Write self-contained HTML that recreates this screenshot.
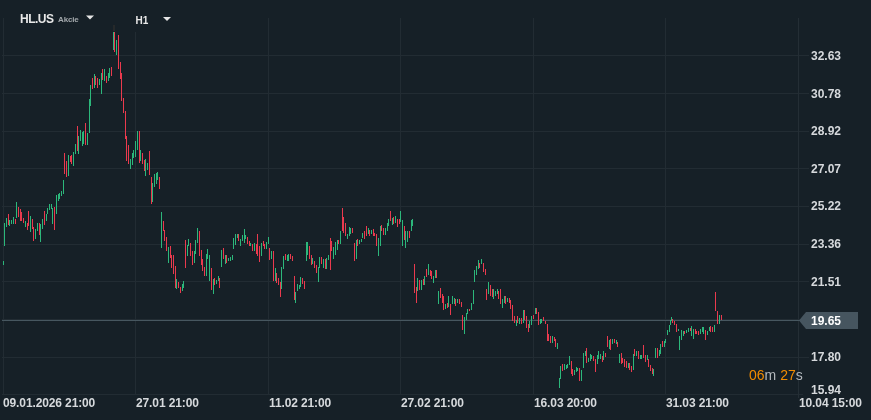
<!DOCTYPE html>
<html><head><meta charset="utf-8">
<style>
html,body{margin:0;padding:0;}
body{width:871px;height:420px;background:#162027;position:relative;overflow:hidden;font-family:"Liberation Sans",Arial,sans-serif;}
svg{position:absolute;left:0;top:0;}
.t{position:absolute;white-space:nowrap;line-height:1;}
.ax{font-size:12px;font-weight:bold;color:#d6d9dc;}
.xl{letter-spacing:-0.12px}
</style></head><body>
<svg width="871" height="420" viewBox="0 0 871 420" shape-rendering="crispEdges">
<rect x="2" y="55" width="807" height="1" fill="#222c33"/>
<rect x="2" y="93" width="807" height="1" fill="#222c33"/>
<rect x="2" y="131" width="807" height="1" fill="#222c33"/>
<rect x="2" y="168" width="807" height="1" fill="#222c33"/>
<rect x="2" y="206" width="807" height="1" fill="#222c33"/>
<rect x="2" y="244" width="807" height="1" fill="#222c33"/>
<rect x="2" y="281" width="807" height="1" fill="#222c33"/>
<rect x="2" y="319" width="807" height="1" fill="#222c33"/>
<rect x="2" y="357" width="807" height="1" fill="#222c33"/>
<rect x="2" y="394" width="801" height="1" fill="#222c33"/>
<rect x="3" y="18" width="1" height="377" fill="#222c33"/>
<rect x="135" y="18" width="1" height="377" fill="#222c33"/>
<rect x="268" y="18" width="1" height="377" fill="#222c33"/>
<rect x="400" y="18" width="1" height="377" fill="#222c33"/>
<rect x="533" y="18" width="1" height="377" fill="#222c33"/>
<rect x="665" y="18" width="1" height="377" fill="#222c33"/>
<rect x="798" y="18" width="1" height="380" fill="#242e35"/>
<rect x="128" y="18" width="56" height="14" fill="#162027"/>
<rect x="113" y="25" width="2" height="6" fill="#26292a"/>
<rect x="2" y="320" width="798" height="1" fill="#475760"/>
<rect x="3" y="261" width="1" height="4" fill="#2cb77b"/>
<rect x="4" y="223" width="1" height="23" fill="#2cb77b"/>
<rect x="6" y="218" width="1" height="9" fill="#2cb77b"/>
<rect x="8" y="214" width="1" height="11" fill="#ea3a4e"/>
<rect x="9" y="220" width="1" height="6" fill="#2cb77b"/>
<rect x="11" y="220" width="1" height="4" fill="#2cb77b"/>
<rect x="13" y="217" width="1" height="7" fill="#2cb77b"/>
<rect x="15" y="219" width="1" height="5" fill="#ea3a4e"/>
<rect x="16" y="202" width="1" height="16" fill="#2cb77b"/>
<rect x="18" y="207" width="1" height="10" fill="#ea3a4e"/>
<rect x="20" y="209" width="1" height="12" fill="#ea3a4e"/>
<rect x="21" y="212" width="1" height="9" fill="#ea3a4e"/>
<rect x="23" y="218" width="1" height="5" fill="#ea3a4e"/>
<rect x="25" y="221" width="1" height="6" fill="#2cb77b"/>
<rect x="27" y="223" width="1" height="7" fill="#ea3a4e"/>
<rect x="28" y="211" width="1" height="15" fill="#ea3a4e"/>
<rect x="30" y="216" width="1" height="16" fill="#2cb77b"/>
<rect x="32" y="219" width="1" height="10" fill="#ea3a4e"/>
<rect x="33" y="227" width="1" height="14" fill="#ea3a4e"/>
<rect x="35" y="229" width="1" height="10" fill="#2cb77b"/>
<rect x="37" y="223" width="1" height="8" fill="#2cb77b"/>
<rect x="39" y="223" width="1" height="12" fill="#ea3a4e"/>
<rect x="40" y="224" width="1" height="18" fill="#2cb77b"/>
<rect x="42" y="219" width="1" height="10" fill="#2cb77b"/>
<rect x="44" y="211" width="1" height="14" fill="#ea3a4e"/>
<rect x="46" y="214" width="1" height="7" fill="#2cb77b"/>
<rect x="47" y="208" width="1" height="6" fill="#2cb77b"/>
<rect x="49" y="204" width="1" height="6" fill="#2cb77b"/>
<rect x="51" y="204" width="1" height="5" fill="#2cb77b"/>
<rect x="52" y="208" width="1" height="16" fill="#2cb77b"/>
<rect x="54" y="207" width="1" height="23" fill="#ea3a4e"/>
<rect x="56" y="195" width="1" height="19" fill="#2cb77b"/>
<rect x="58" y="194" width="1" height="7" fill="#2cb77b"/>
<rect x="59" y="193" width="1" height="6" fill="#2cb77b"/>
<rect x="61" y="191" width="1" height="5" fill="#2cb77b"/>
<rect x="63" y="180" width="1" height="14" fill="#2cb77b"/>
<rect x="64" y="153" width="1" height="21" fill="#ea3a4e"/>
<rect x="66" y="161" width="1" height="16" fill="#ea3a4e"/>
<rect x="68" y="155" width="1" height="21" fill="#2cb77b"/>
<rect x="70" y="156" width="1" height="6" fill="#ea3a4e"/>
<rect x="71" y="155" width="1" height="9" fill="#ea3a4e"/>
<rect x="73" y="152" width="1" height="14" fill="#2cb77b"/>
<rect x="75" y="144" width="1" height="10" fill="#2cb77b"/>
<rect x="77" y="126" width="1" height="25" fill="#ea3a4e"/>
<rect x="78" y="136" width="1" height="18" fill="#2cb77b"/>
<rect x="80" y="130" width="1" height="11" fill="#2cb77b"/>
<rect x="82" y="132" width="1" height="14" fill="#2cb77b"/>
<rect x="83" y="131" width="1" height="13" fill="#2cb77b"/>
<rect x="85" y="123" width="1" height="22" fill="#ea3a4e"/>
<rect x="87" y="133" width="1" height="12" fill="#2cb77b"/>
<rect x="89" y="99" width="1" height="34" fill="#2cb77b"/>
<rect x="90" y="85" width="1" height="21" fill="#2cb77b"/>
<rect x="92" y="78" width="1" height="11" fill="#ea3a4e"/>
<rect x="94" y="74" width="1" height="14" fill="#2cb77b"/>
<rect x="95" y="76" width="1" height="9" fill="#ea3a4e"/>
<rect x="97" y="78" width="1" height="10" fill="#ea3a4e"/>
<rect x="99" y="79" width="1" height="6" fill="#2cb77b"/>
<rect x="101" y="73" width="1" height="21" fill="#2cb77b"/>
<rect x="102" y="69" width="1" height="11" fill="#ea3a4e"/>
<rect x="104" y="69" width="1" height="12" fill="#2cb77b"/>
<rect x="106" y="76" width="1" height="7" fill="#ea3a4e"/>
<rect x="108" y="73" width="1" height="8" fill="#2cb77b"/>
<rect x="109" y="68" width="1" height="10" fill="#2cb77b"/>
<rect x="111" y="67" width="1" height="9" fill="#ea3a4e"/>
<rect x="113" y="32" width="1" height="18" fill="#2cb77b"/>
<rect x="114" y="32" width="1" height="20" fill="#ea3a4e"/>
<rect x="116" y="40" width="1" height="15" fill="#2cb77b"/>
<rect x="118" y="35" width="1" height="34" fill="#ea3a4e"/>
<rect x="120" y="62" width="1" height="17" fill="#ea3a4e"/>
<rect x="121" y="73" width="1" height="28" fill="#ea3a4e"/>
<rect x="123" y="98" width="1" height="15" fill="#ea3a4e"/>
<rect x="125" y="111" width="1" height="28" fill="#ea3a4e"/>
<rect x="126" y="136" width="1" height="25" fill="#ea3a4e"/>
<rect x="128" y="145" width="1" height="19" fill="#ea3a4e"/>
<rect x="130" y="159" width="1" height="10" fill="#2cb77b"/>
<rect x="132" y="153" width="1" height="12" fill="#2cb77b"/>
<rect x="133" y="150" width="1" height="8" fill="#2cb77b"/>
<rect x="135" y="141" width="1" height="16" fill="#2cb77b"/>
<rect x="137" y="131" width="1" height="19" fill="#2cb77b"/>
<rect x="139" y="131" width="1" height="32" fill="#ea3a4e"/>
<rect x="140" y="150" width="1" height="11" fill="#2cb77b"/>
<rect x="142" y="153" width="1" height="11" fill="#ea3a4e"/>
<rect x="144" y="160" width="1" height="11" fill="#ea3a4e"/>
<rect x="145" y="159" width="1" height="17" fill="#2cb77b"/>
<rect x="147" y="163" width="1" height="7" fill="#2cb77b"/>
<rect x="149" y="151" width="1" height="24" fill="#ea3a4e"/>
<rect x="151" y="177" width="1" height="27" fill="#ea3a4e"/>
<rect x="152" y="183" width="1" height="19" fill="#2cb77b"/>
<rect x="154" y="174" width="1" height="13" fill="#2cb77b"/>
<rect x="156" y="173" width="1" height="11" fill="#2cb77b"/>
<rect x="157" y="172" width="1" height="8" fill="#2cb77b"/>
<rect x="159" y="177" width="1" height="12" fill="#ea3a4e"/>
<rect x="161" y="212" width="1" height="36" fill="#2cb77b"/>
<rect x="163" y="221" width="1" height="10" fill="#ea3a4e"/>
<rect x="164" y="230" width="1" height="11" fill="#ea3a4e"/>
<rect x="166" y="237" width="1" height="14" fill="#ea3a4e"/>
<rect x="168" y="247" width="1" height="16" fill="#2cb77b"/>
<rect x="170" y="246" width="1" height="12" fill="#ea3a4e"/>
<rect x="171" y="255" width="1" height="13" fill="#ea3a4e"/>
<rect x="173" y="255" width="1" height="19" fill="#ea3a4e"/>
<rect x="175" y="266" width="1" height="22" fill="#ea3a4e"/>
<rect x="176" y="279" width="1" height="10" fill="#2cb77b"/>
<rect x="178" y="282" width="1" height="6" fill="#ea3a4e"/>
<rect x="180" y="287" width="1" height="6" fill="#ea3a4e"/>
<rect x="182" y="284" width="1" height="7" fill="#2cb77b"/>
<rect x="183" y="281" width="1" height="7" fill="#2cb77b"/>
<rect x="185" y="240" width="1" height="28" fill="#ea3a4e"/>
<rect x="187" y="245" width="1" height="11" fill="#2cb77b"/>
<rect x="188" y="239" width="1" height="7" fill="#2cb77b"/>
<rect x="190" y="243" width="1" height="13" fill="#ea3a4e"/>
<rect x="192" y="251" width="1" height="14" fill="#ea3a4e"/>
<rect x="194" y="251" width="1" height="12" fill="#2cb77b"/>
<rect x="195" y="240" width="1" height="14" fill="#2cb77b"/>
<rect x="197" y="228" width="1" height="15" fill="#2cb77b"/>
<rect x="199" y="231" width="1" height="25" fill="#ea3a4e"/>
<rect x="201" y="250" width="1" height="15" fill="#ea3a4e"/>
<rect x="202" y="259" width="1" height="12" fill="#ea3a4e"/>
<rect x="204" y="267" width="1" height="9" fill="#ea3a4e"/>
<rect x="206" y="254" width="1" height="22" fill="#2cb77b"/>
<rect x="207" y="249" width="1" height="10" fill="#2cb77b"/>
<rect x="209" y="255" width="1" height="26" fill="#2cb77b"/>
<rect x="211" y="268" width="1" height="22" fill="#ea3a4e"/>
<rect x="213" y="279" width="1" height="15" fill="#2cb77b"/>
<rect x="214" y="278" width="1" height="7" fill="#ea3a4e"/>
<rect x="216" y="280" width="1" height="4" fill="#2cb77b"/>
<rect x="218" y="276" width="1" height="5" fill="#2cb77b"/>
<rect x="219" y="278" width="1" height="10" fill="#ea3a4e"/>
<rect x="221" y="250" width="1" height="17" fill="#2cb77b"/>
<rect x="223" y="248" width="1" height="11" fill="#ea3a4e"/>
<rect x="225" y="255" width="1" height="9" fill="#2cb77b"/>
<rect x="226" y="255" width="1" height="8" fill="#ea3a4e"/>
<rect x="228" y="258" width="1" height="3" fill="#2cb77b"/>
<rect x="230" y="257" width="1" height="4" fill="#2cb77b"/>
<rect x="232" y="255" width="1" height="5" fill="#2cb77b"/>
<rect x="233" y="238" width="1" height="11" fill="#2cb77b"/>
<rect x="235" y="234" width="1" height="11" fill="#2cb77b"/>
<rect x="237" y="234" width="1" height="4" fill="#2cb77b"/>
<rect x="238" y="234" width="1" height="7" fill="#ea3a4e"/>
<rect x="240" y="239" width="1" height="7" fill="#2cb77b"/>
<rect x="242" y="235" width="1" height="6" fill="#2cb77b"/>
<rect x="244" y="229" width="1" height="14" fill="#2cb77b"/>
<rect x="245" y="235" width="1" height="4" fill="#2cb77b"/>
<rect x="247" y="237" width="1" height="7" fill="#ea3a4e"/>
<rect x="249" y="241" width="1" height="5" fill="#ea3a4e"/>
<rect x="250" y="243" width="1" height="3" fill="#2cb77b"/>
<rect x="252" y="244" width="1" height="7" fill="#ea3a4e"/>
<rect x="254" y="243" width="1" height="8" fill="#2cb77b"/>
<rect x="256" y="244" width="1" height="10" fill="#ea3a4e"/>
<rect x="257" y="234" width="1" height="22" fill="#ea3a4e"/>
<rect x="259" y="246" width="1" height="16" fill="#ea3a4e"/>
<rect x="261" y="243" width="1" height="13" fill="#2cb77b"/>
<rect x="263" y="241" width="1" height="5" fill="#ea3a4e"/>
<rect x="264" y="244" width="1" height="5" fill="#ea3a4e"/>
<rect x="266" y="242" width="1" height="7" fill="#2cb77b"/>
<rect x="268" y="237" width="1" height="7" fill="#2cb77b"/>
<rect x="269" y="248" width="1" height="12" fill="#ea3a4e"/>
<rect x="271" y="251" width="1" height="8" fill="#2cb77b"/>
<rect x="273" y="251" width="1" height="30" fill="#ea3a4e"/>
<rect x="275" y="268" width="1" height="13" fill="#2cb77b"/>
<rect x="276" y="273" width="1" height="10" fill="#ea3a4e"/>
<rect x="278" y="278" width="1" height="7" fill="#ea3a4e"/>
<rect x="280" y="282" width="1" height="15" fill="#ea3a4e"/>
<rect x="281" y="267" width="1" height="22" fill="#2cb77b"/>
<rect x="283" y="256" width="1" height="13" fill="#2cb77b"/>
<rect x="285" y="254" width="1" height="6" fill="#ea3a4e"/>
<rect x="287" y="255" width="1" height="6" fill="#2cb77b"/>
<rect x="288" y="254" width="1" height="7" fill="#2cb77b"/>
<rect x="290" y="254" width="1" height="5" fill="#ea3a4e"/>
<rect x="292" y="256" width="1" height="5" fill="#ea3a4e"/>
<rect x="294" y="276" width="1" height="24" fill="#ea3a4e"/>
<rect x="295" y="292" width="1" height="11" fill="#2cb77b"/>
<rect x="297" y="284" width="1" height="7" fill="#2cb77b"/>
<rect x="299" y="285" width="1" height="4" fill="#2cb77b"/>
<rect x="300" y="277" width="1" height="10" fill="#2cb77b"/>
<rect x="302" y="278" width="1" height="6" fill="#ea3a4e"/>
<rect x="304" y="281" width="1" height="8" fill="#ea3a4e"/>
<rect x="306" y="242" width="1" height="19" fill="#2cb77b"/>
<rect x="307" y="242" width="1" height="13" fill="#2cb77b"/>
<rect x="309" y="246" width="1" height="13" fill="#ea3a4e"/>
<rect x="311" y="255" width="1" height="10" fill="#ea3a4e"/>
<rect x="312" y="258" width="1" height="6" fill="#2cb77b"/>
<rect x="314" y="261" width="1" height="7" fill="#ea3a4e"/>
<rect x="316" y="265" width="1" height="8" fill="#ea3a4e"/>
<rect x="318" y="267" width="1" height="15" fill="#2cb77b"/>
<rect x="319" y="257" width="1" height="11" fill="#2cb77b"/>
<rect x="321" y="257" width="1" height="7" fill="#ea3a4e"/>
<rect x="323" y="259" width="1" height="9" fill="#2cb77b"/>
<rect x="325" y="259" width="1" height="10" fill="#ea3a4e"/>
<rect x="326" y="258" width="1" height="11" fill="#2cb77b"/>
<rect x="328" y="255" width="1" height="5" fill="#2cb77b"/>
<rect x="330" y="238" width="1" height="32" fill="#ea3a4e"/>
<rect x="331" y="241" width="1" height="10" fill="#ea3a4e"/>
<rect x="333" y="247" width="1" height="12" fill="#2cb77b"/>
<rect x="335" y="242" width="1" height="13" fill="#2cb77b"/>
<rect x="337" y="240" width="1" height="10" fill="#2cb77b"/>
<rect x="338" y="240" width="1" height="4" fill="#ea3a4e"/>
<rect x="340" y="231" width="1" height="13" fill="#2cb77b"/>
<rect x="342" y="208" width="1" height="23" fill="#ea3a4e"/>
<rect x="343" y="217" width="1" height="16" fill="#ea3a4e"/>
<rect x="345" y="223" width="1" height="13" fill="#ea3a4e"/>
<rect x="347" y="234" width="1" height="5" fill="#2cb77b"/>
<rect x="349" y="227" width="1" height="9" fill="#2cb77b"/>
<rect x="350" y="228" width="1" height="6" fill="#2cb77b"/>
<rect x="352" y="228" width="1" height="5" fill="#ea3a4e"/>
<rect x="354" y="243" width="1" height="18" fill="#ea3a4e"/>
<rect x="356" y="240" width="1" height="19" fill="#2cb77b"/>
<rect x="357" y="239" width="1" height="7" fill="#ea3a4e"/>
<rect x="359" y="240" width="1" height="4" fill="#2cb77b"/>
<rect x="361" y="239" width="1" height="3" fill="#2cb77b"/>
<rect x="362" y="233" width="1" height="5" fill="#2cb77b"/>
<rect x="364" y="231" width="1" height="8" fill="#ea3a4e"/>
<rect x="366" y="226" width="1" height="10" fill="#ea3a4e"/>
<rect x="368" y="228" width="1" height="6" fill="#2cb77b"/>
<rect x="369" y="230" width="1" height="6" fill="#ea3a4e"/>
<rect x="371" y="230" width="1" height="4" fill="#2cb77b"/>
<rect x="373" y="229" width="1" height="7" fill="#ea3a4e"/>
<rect x="374" y="233" width="1" height="3" fill="#ea3a4e"/>
<rect x="376" y="234" width="1" height="12" fill="#ea3a4e"/>
<rect x="378" y="238" width="1" height="18" fill="#2cb77b"/>
<rect x="380" y="226" width="1" height="20" fill="#2cb77b"/>
<rect x="381" y="225" width="1" height="6" fill="#ea3a4e"/>
<rect x="383" y="228" width="1" height="7" fill="#ea3a4e"/>
<rect x="385" y="228" width="1" height="7" fill="#2cb77b"/>
<rect x="387" y="223" width="1" height="8" fill="#2cb77b"/>
<rect x="388" y="219" width="1" height="7" fill="#2cb77b"/>
<rect x="390" y="211" width="1" height="10" fill="#ea3a4e"/>
<rect x="392" y="218" width="1" height="7" fill="#2cb77b"/>
<rect x="393" y="217" width="1" height="7" fill="#ea3a4e"/>
<rect x="395" y="216" width="1" height="7" fill="#2cb77b"/>
<rect x="397" y="219" width="1" height="8" fill="#ea3a4e"/>
<rect x="399" y="219" width="1" height="5" fill="#ea3a4e"/>
<rect x="400" y="211" width="1" height="11" fill="#2cb77b"/>
<rect x="402" y="220" width="1" height="26" fill="#2cb77b"/>
<rect x="404" y="226" width="1" height="14" fill="#ea3a4e"/>
<rect x="405" y="231" width="1" height="17" fill="#2cb77b"/>
<rect x="407" y="231" width="1" height="11" fill="#2cb77b"/>
<rect x="409" y="231" width="1" height="7" fill="#ea3a4e"/>
<rect x="411" y="220" width="1" height="11" fill="#2cb77b"/>
<rect x="412" y="219" width="1" height="7" fill="#2cb77b"/>
<rect x="414" y="264" width="1" height="29" fill="#ea3a4e"/>
<rect x="416" y="287" width="1" height="16" fill="#ea3a4e"/>
<rect x="417" y="278" width="1" height="13" fill="#2cb77b"/>
<rect x="419" y="280" width="1" height="10" fill="#ea3a4e"/>
<rect x="421" y="280" width="1" height="10" fill="#2cb77b"/>
<rect x="423" y="279" width="1" height="6" fill="#ea3a4e"/>
<rect x="424" y="276" width="1" height="9" fill="#2cb77b"/>
<rect x="426" y="269" width="1" height="8" fill="#ea3a4e"/>
<rect x="428" y="264" width="1" height="11" fill="#2cb77b"/>
<rect x="430" y="270" width="1" height="6" fill="#ea3a4e"/>
<rect x="431" y="271" width="1" height="8" fill="#ea3a4e"/>
<rect x="433" y="276" width="1" height="7" fill="#2cb77b"/>
<rect x="435" y="270" width="1" height="8" fill="#2cb77b"/>
<rect x="436" y="270" width="1" height="8" fill="#ea3a4e"/>
<rect x="438" y="291" width="1" height="13" fill="#2cb77b"/>
<rect x="440" y="288" width="1" height="10" fill="#ea3a4e"/>
<rect x="442" y="294" width="1" height="9" fill="#ea3a4e"/>
<rect x="443" y="296" width="1" height="14" fill="#ea3a4e"/>
<rect x="445" y="304" width="1" height="5" fill="#2cb77b"/>
<rect x="447" y="303" width="1" height="5" fill="#ea3a4e"/>
<rect x="448" y="296" width="1" height="11" fill="#2cb77b"/>
<rect x="450" y="304" width="1" height="11" fill="#ea3a4e"/>
<rect x="452" y="296" width="1" height="8" fill="#2cb77b"/>
<rect x="454" y="298" width="1" height="6" fill="#2cb77b"/>
<rect x="455" y="299" width="1" height="7" fill="#ea3a4e"/>
<rect x="457" y="299" width="1" height="4" fill="#2cb77b"/>
<rect x="459" y="299" width="1" height="5" fill="#ea3a4e"/>
<rect x="461" y="302" width="1" height="5" fill="#ea3a4e"/>
<rect x="462" y="315" width="1" height="15" fill="#ea3a4e"/>
<rect x="464" y="317" width="1" height="17" fill="#2cb77b"/>
<rect x="466" y="313" width="1" height="7" fill="#2cb77b"/>
<rect x="467" y="309" width="1" height="5" fill="#2cb77b"/>
<rect x="469" y="309" width="1" height="2" fill="#ea3a4e"/>
<rect x="471" y="303" width="1" height="7" fill="#2cb77b"/>
<rect x="473" y="290" width="1" height="14" fill="#2cb77b"/>
<rect x="474" y="270" width="1" height="12" fill="#2cb77b"/>
<rect x="476" y="266" width="1" height="9" fill="#2cb77b"/>
<rect x="478" y="260" width="1" height="9" fill="#2cb77b"/>
<rect x="479" y="263" width="1" height="5" fill="#ea3a4e"/>
<rect x="481" y="259" width="1" height="5" fill="#2cb77b"/>
<rect x="483" y="263" width="1" height="9" fill="#ea3a4e"/>
<rect x="485" y="269" width="1" height="6" fill="#ea3a4e"/>
<rect x="486" y="289" width="1" height="11" fill="#ea3a4e"/>
<rect x="488" y="282" width="1" height="12" fill="#2cb77b"/>
<rect x="490" y="285" width="1" height="11" fill="#ea3a4e"/>
<rect x="492" y="289" width="1" height="8" fill="#ea3a4e"/>
<rect x="493" y="289" width="1" height="10" fill="#2cb77b"/>
<rect x="495" y="291" width="1" height="5" fill="#2cb77b"/>
<rect x="497" y="289" width="1" height="5" fill="#2cb77b"/>
<rect x="498" y="291" width="1" height="8" fill="#ea3a4e"/>
<rect x="500" y="289" width="1" height="15" fill="#ea3a4e"/>
<rect x="502" y="299" width="1" height="9" fill="#2cb77b"/>
<rect x="504" y="296" width="1" height="7" fill="#2cb77b"/>
<rect x="505" y="296" width="1" height="8" fill="#ea3a4e"/>
<rect x="507" y="298" width="1" height="4" fill="#2cb77b"/>
<rect x="509" y="298" width="1" height="5" fill="#ea3a4e"/>
<rect x="510" y="300" width="1" height="9" fill="#ea3a4e"/>
<rect x="512" y="305" width="1" height="16" fill="#ea3a4e"/>
<rect x="514" y="316" width="1" height="7" fill="#ea3a4e"/>
<rect x="516" y="320" width="1" height="6" fill="#2cb77b"/>
<rect x="517" y="316" width="1" height="7" fill="#ea3a4e"/>
<rect x="519" y="318" width="1" height="6" fill="#2cb77b"/>
<rect x="521" y="318" width="1" height="6" fill="#ea3a4e"/>
<rect x="523" y="310" width="1" height="13" fill="#2cb77b"/>
<rect x="524" y="310" width="1" height="10" fill="#ea3a4e"/>
<rect x="526" y="316" width="1" height="12" fill="#ea3a4e"/>
<rect x="528" y="324" width="1" height="8" fill="#ea3a4e"/>
<rect x="529" y="321" width="1" height="7" fill="#2cb77b"/>
<rect x="531" y="316" width="1" height="9" fill="#2cb77b"/>
<rect x="533" y="315" width="1" height="4" fill="#ea3a4e"/>
<rect x="535" y="308" width="1" height="6" fill="#2cb77b"/>
<rect x="536" y="308" width="1" height="6" fill="#ea3a4e"/>
<rect x="538" y="312" width="1" height="13" fill="#ea3a4e"/>
<rect x="540" y="319" width="1" height="5" fill="#2cb77b"/>
<rect x="541" y="319" width="1" height="4" fill="#2cb77b"/>
<rect x="543" y="317" width="1" height="4" fill="#ea3a4e"/>
<rect x="545" y="321" width="1" height="3" fill="#ea3a4e"/>
<rect x="547" y="324" width="1" height="17" fill="#ea3a4e"/>
<rect x="548" y="334" width="1" height="7" fill="#ea3a4e"/>
<rect x="550" y="336" width="1" height="7" fill="#ea3a4e"/>
<rect x="552" y="336" width="1" height="7" fill="#2cb77b"/>
<rect x="554" y="337" width="1" height="4" fill="#ea3a4e"/>
<rect x="555" y="339" width="1" height="8" fill="#ea3a4e"/>
<rect x="557" y="343" width="1" height="6" fill="#2cb77b"/>
<rect x="559" y="378" width="1" height="10" fill="#2cb77b"/>
<rect x="560" y="366" width="1" height="13" fill="#2cb77b"/>
<rect x="562" y="364" width="1" height="7" fill="#ea3a4e"/>
<rect x="564" y="364" width="1" height="6" fill="#2cb77b"/>
<rect x="566" y="365" width="1" height="4" fill="#2cb77b"/>
<rect x="567" y="364" width="1" height="4" fill="#2cb77b"/>
<rect x="569" y="356" width="1" height="9" fill="#2cb77b"/>
<rect x="571" y="361" width="1" height="13" fill="#ea3a4e"/>
<rect x="572" y="369" width="1" height="7" fill="#ea3a4e"/>
<rect x="574" y="370" width="1" height="5" fill="#2cb77b"/>
<rect x="576" y="367" width="1" height="5" fill="#2cb77b"/>
<rect x="577" y="368" width="1" height="3" fill="#2cb77b"/>
<rect x="579" y="368" width="1" height="13" fill="#ea3a4e"/>
<rect x="581" y="370" width="1" height="11" fill="#2cb77b"/>
<rect x="583" y="353" width="1" height="15" fill="#2cb77b"/>
<rect x="585" y="351" width="1" height="5" fill="#2cb77b"/>
<rect x="586" y="348" width="1" height="15" fill="#ea3a4e"/>
<rect x="588" y="358" width="1" height="4" fill="#2cb77b"/>
<rect x="590" y="354" width="1" height="7" fill="#2cb77b"/>
<rect x="591" y="355" width="1" height="4" fill="#2cb77b"/>
<rect x="593" y="356" width="1" height="5" fill="#ea3a4e"/>
<rect x="595" y="359" width="1" height="13" fill="#ea3a4e"/>
<rect x="597" y="355" width="1" height="9" fill="#2cb77b"/>
<rect x="598" y="351" width="1" height="8" fill="#2cb77b"/>
<rect x="600" y="354" width="1" height="5" fill="#2cb77b"/>
<rect x="602" y="356" width="1" height="6" fill="#ea3a4e"/>
<rect x="603" y="351" width="1" height="9" fill="#2cb77b"/>
<rect x="605" y="353" width="1" height="4" fill="#ea3a4e"/>
<rect x="607" y="336" width="1" height="11" fill="#ea3a4e"/>
<rect x="609" y="340" width="1" height="9" fill="#2cb77b"/>
<rect x="610" y="339" width="1" height="11" fill="#ea3a4e"/>
<rect x="612" y="339" width="1" height="5" fill="#2cb77b"/>
<rect x="614" y="339" width="1" height="4" fill="#ea3a4e"/>
<rect x="616" y="340" width="1" height="4" fill="#2cb77b"/>
<rect x="617" y="342" width="1" height="5" fill="#ea3a4e"/>
<rect x="619" y="354" width="1" height="9" fill="#2cb77b"/>
<rect x="621" y="353" width="1" height="11" fill="#ea3a4e"/>
<rect x="622" y="358" width="1" height="5" fill="#ea3a4e"/>
<rect x="624" y="359" width="1" height="8" fill="#ea3a4e"/>
<rect x="626" y="361" width="1" height="7" fill="#ea3a4e"/>
<rect x="628" y="363" width="1" height="5" fill="#2cb77b"/>
<rect x="629" y="363" width="1" height="7" fill="#ea3a4e"/>
<rect x="631" y="366" width="1" height="6" fill="#ea3a4e"/>
<rect x="633" y="354" width="1" height="16" fill="#2cb77b"/>
<rect x="634" y="349" width="1" height="7" fill="#ea3a4e"/>
<rect x="636" y="351" width="1" height="5" fill="#2cb77b"/>
<rect x="638" y="351" width="1" height="8" fill="#ea3a4e"/>
<rect x="640" y="355" width="1" height="4" fill="#2cb77b"/>
<rect x="641" y="355" width="1" height="4" fill="#2cb77b"/>
<rect x="643" y="345" width="1" height="13" fill="#ea3a4e"/>
<rect x="645" y="355" width="1" height="7" fill="#ea3a4e"/>
<rect x="647" y="355" width="1" height="5" fill="#2cb77b"/>
<rect x="648" y="359" width="1" height="8" fill="#ea3a4e"/>
<rect x="650" y="365" width="1" height="6" fill="#ea3a4e"/>
<rect x="652" y="368" width="1" height="6" fill="#ea3a4e"/>
<rect x="653" y="369" width="1" height="7" fill="#2cb77b"/>
<rect x="655" y="348" width="1" height="10" fill="#2cb77b"/>
<rect x="657" y="348" width="1" height="10" fill="#ea3a4e"/>
<rect x="659" y="350" width="1" height="6" fill="#2cb77b"/>
<rect x="660" y="344" width="1" height="10" fill="#2cb77b"/>
<rect x="662" y="341" width="1" height="6" fill="#ea3a4e"/>
<rect x="664" y="341" width="1" height="6" fill="#2cb77b"/>
<rect x="665" y="339" width="1" height="4" fill="#2cb77b"/>
<rect x="667" y="330" width="1" height="5" fill="#2cb77b"/>
<rect x="669" y="325" width="1" height="7" fill="#2cb77b"/>
<rect x="670" y="320" width="1" height="5" fill="#2cb77b"/>
<rect x="671" y="317" width="1" height="4" fill="#2cb77b"/>
<rect x="672" y="319" width="1" height="4" fill="#ea3a4e"/>
<rect x="674" y="321" width="1" height="4" fill="#ea3a4e"/>
<rect x="676" y="324" width="1" height="8" fill="#ea3a4e"/>
<rect x="678" y="329" width="1" height="2" fill="#2cb77b"/>
<rect x="679" y="336" width="1" height="14" fill="#2cb77b"/>
<rect x="681" y="330" width="1" height="10" fill="#2cb77b"/>
<rect x="683" y="331" width="1" height="5" fill="#2cb77b"/>
<rect x="684" y="331" width="1" height="3" fill="#ea3a4e"/>
<rect x="686" y="330" width="1" height="3" fill="#2cb77b"/>
<rect x="688" y="328" width="1" height="4" fill="#2cb77b"/>
<rect x="690" y="328" width="1" height="3" fill="#ea3a4e"/>
<rect x="691" y="326" width="1" height="10" fill="#2cb77b"/>
<rect x="693" y="329" width="1" height="10" fill="#2cb77b"/>
<rect x="695" y="329" width="1" height="5" fill="#ea3a4e"/>
<rect x="696" y="331" width="1" height="3" fill="#ea3a4e"/>
<rect x="698" y="331" width="1" height="4" fill="#ea3a4e"/>
<rect x="700" y="329" width="1" height="5" fill="#2cb77b"/>
<rect x="702" y="327" width="1" height="5" fill="#2cb77b"/>
<rect x="703" y="327" width="1" height="7" fill="#2cb77b"/>
<rect x="705" y="330" width="1" height="10" fill="#ea3a4e"/>
<rect x="707" y="331" width="1" height="4" fill="#2cb77b"/>
<rect x="709" y="327" width="1" height="4" fill="#2cb77b"/>
<rect x="710" y="326" width="1" height="6" fill="#ea3a4e"/>
<rect x="712" y="327" width="1" height="5" fill="#ea3a4e"/>
<rect x="714" y="325" width="1" height="7" fill="#2cb77b"/>
<rect x="715" y="292" width="1" height="19" fill="#ea3a4e"/>
<rect x="717" y="311" width="1" height="13" fill="#ea3a4e"/>
<rect x="719" y="315" width="1" height="9" fill="#2cb77b"/>
<rect x="721" y="315" width="1" height="5" fill="#ea3a4e"/>
<polygon points="799,320.5 806,312 858,312 858,329 806,329" fill="#46555f" shape-rendering="auto"/>
<polygon points="86,15.5 94,15.5 90,19.5" fill="#e6e6e6" shape-rendering="auto"/>
<polygon points="163,17 171,17 167,21" fill="#e6e6e6" shape-rendering="auto"/>
</svg>
<div class="t" style="left:20px;top:13px;font-size:12px;font-weight:bold;color:#e8e8e8;letter-spacing:-0.5px">HL.US</div>
<div class="t" style="left:58px;top:15.6px;font-size:8px;font-weight:bold;color:#a3a8ac;letter-spacing:-0.15px">Akcie</div>
<div class="t" style="left:135.5px;top:16px;font-size:10px;font-weight:bold;color:#e8e8e8">H1</div>

<div class="t ax" style="left:811px;top:50px">32.63</div>
<div class="t ax" style="left:811px;top:88px">30.78</div>
<div class="t ax" style="left:811px;top:125px">28.92</div>
<div class="t ax" style="left:811px;top:163px">27.07</div>
<div class="t ax" style="left:811px;top:200px">25.22</div>
<div class="t ax" style="left:811px;top:238px">23.36</div>
<div class="t ax" style="left:811px;top:276px">21.51</div>
<div class="t ax" style="left:811px;top:315px;color:#fff">19.65</div>
<div class="t ax" style="left:811px;top:351px">17.80</div>
<div class="t ax" style="left:811px;top:384px">15.94</div>

<div class="t ax xl" style="left:3px;top:397px">09.01.2026 21:00</div>
<div class="t ax xl" style="left:136px;top:397px">27.01 21:00</div>
<div class="t ax xl" style="left:269px;top:397px">11.02 21:00</div>
<div class="t ax xl" style="left:401px;top:397px">27.02 21:00</div>
<div class="t ax xl" style="left:534px;top:397px">16.03 20:00</div>
<div class="t ax xl" style="left:666px;top:397px">31.03 21:00</div>
<div class="t ax xl" style="left:799px;top:397px">10.04 15:00</div>

<div class="t" style="left:749px;top:368px;font-size:14px;color:#b3b8bc"><span style="color:#f28c00">06</span>m <span style="color:#f28c00">27</span>s</div>
</body></html>
